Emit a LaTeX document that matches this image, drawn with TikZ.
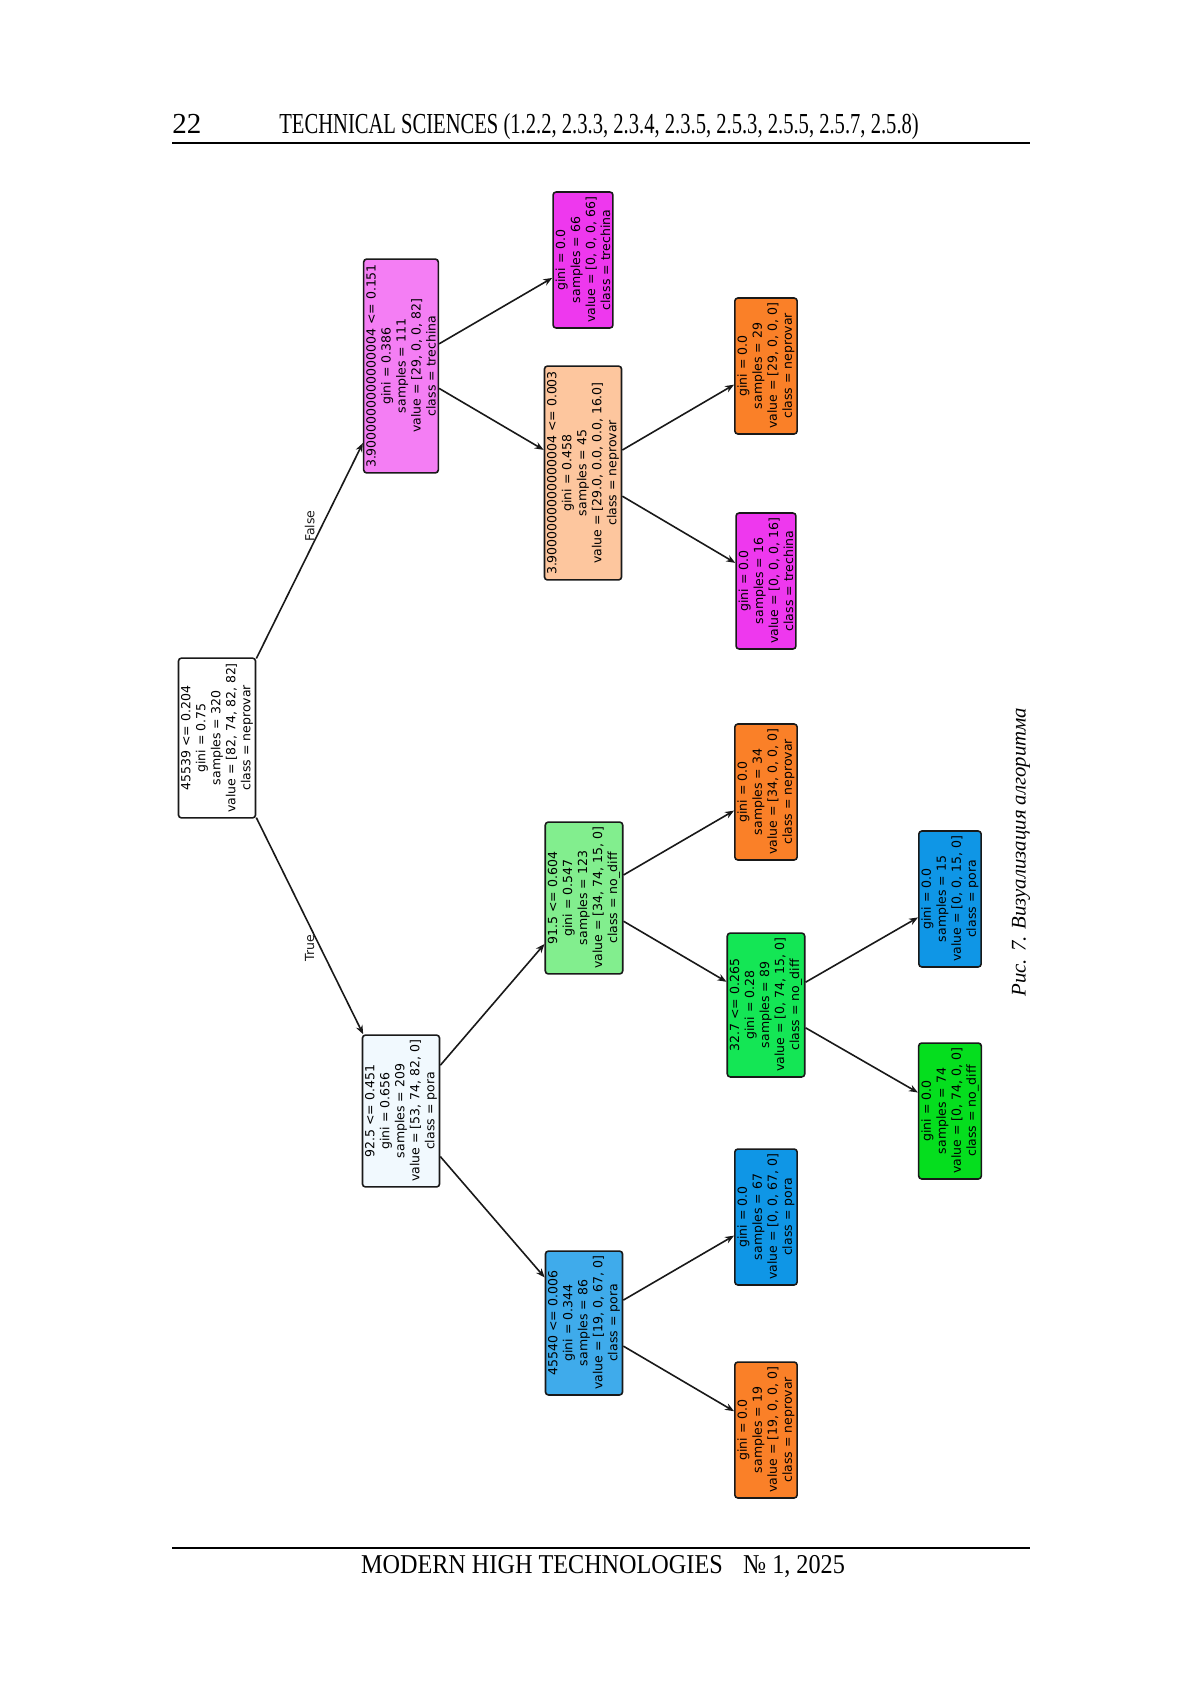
\documentclass[tikz,border=0pt]{standalone}
\usepackage{fontspec}
\setmainfont{Liberation Serif}
\newfontfamily\treefont{DejaVu Sans}
\newfontfamily\headfont[FakeStretch=0.71]{Liberation Serif}
\newfontfamily\footfont[FakeStretch=0.89]{Liberation Serif}
\usepackage{xcolor}
\usetikzlibrary{arrows.meta}

\definecolor{neprovar}{RGB}{250,128,40}
\definecolor{trechina}{RGB}{238,56,238}
\definecolor{pora}{RGB}{15,150,230}
\definecolor{nodiff}{RGB}{5,222,30}
\definecolor{nodiffmid}{RGB}{20,230,85}

\begin{document}
\begin{tikzpicture}[
  x=0.5pt, y=-0.5pt,
  box/.style={draw=black!90, line width=0.8pt, rounded corners=1.5pt, rotate=90, align=center,
    inner xsep=2.5pt, inner ysep=1.3pt, font=\treefont\fontsize{6.25}{7.5}\selectfont},
  arrow/.style={-{Stealth[length=4.5pt, width=3.5pt]}, line width=0.8pt, black!90},
  edgelabel/.style={rotate=90, inner xsep=4pt, inner ysep=0pt, font=\treefont\fontsize{6.25}{7.5}\selectfont}
]

% Page
\fill[white] (0,0) rectangle (1200,1697);
\node[anchor=base west, inner sep=0pt, font=\fontsize{14.5}{16}\selectfont] (pagenum) at (172,133) {22};
\node[anchor=base west, inner sep=0pt, font=\headfont\fontsize{14.5}{16}\selectfont] (header) at (279,133)
  {TECHNICAL SCIENCES (1.2.2, 2.3.3, 2.3.4, 2.3.5, 2.5.3, 2.5.5, 2.5.7, 2.5.8)};
\draw[line width=1.2pt] (172,143) -- (1030,143);
\draw[line width=1.2pt] (172,1548) -- (1030,1548);
\node[anchor=base, inner sep=0pt, font=\footfont\fontsize{13.6}{16}\selectfont] (footer) at (603,1573)
  {MODERN HIGH TECHNOLOGIES\hspace{0.75em}№ 1, 2025};
\node[rotate=90, font=\itshape\fontsize{10.4}{12}\selectfont] (caption) at (1021,852) {Рис. 7. Визуализация алгоритма};

% Nodes
\node[box, fill=white] (root) at (217,738) {45539 <= 0.204\\gini = 0.75\\samples = 320\\value = [82, 74, 82, 82]\\class = neprovar};
\node[box, fill=pora!6] (n1) at (401,1111) {92.5 <= 0.451\\gini = 0.656\\samples = 209\\value = [53, 74, 82, 0]\\class = pora};
\node[box, fill=trechina!65] (n2) at (401,366) {3.9000000000000004 <= 0.151\\gini = 0.386\\samples = 111\\value = [29, 0, 0, 82]\\class = trechina};
\node[box, fill=neprovar!45] (n3) at (583,473) {3.9000000000000004 <= 0.003\\gini = 0.458\\samples = 45\\value = [29.0, 0.0, 0.0, 16.0]\\class = neprovar};
\node[box, fill=trechina] (l1) at (583,260) {gini = 0.0\\samples = 66\\value = [0, 0, 0, 66]\\class = trechina};
\node[box, fill=neprovar] (l2) at (766,366) {gini = 0.0\\samples = 29\\value = [29, 0, 0, 0]\\class = neprovar};
\node[box, fill=trechina] (l3) at (766,581) {gini = 0.0\\samples = 16\\value = [0, 0, 0, 16]\\class = trechina};
\node[box, fill=nodiff!50] (n4) at (584,898) {91.5 <= 0.604\\gini = 0.547\\samples = 123\\value = [34, 74, 15, 0]\\class = no\_diff};
\node[box, fill=neprovar] (l4) at (766,792) {gini = 0.0\\samples = 34\\value = [34, 0, 0, 0]\\class = neprovar};
\node[box, fill=nodiffmid] (n5) at (766,1005) {32.7 <= 0.265\\gini = 0.28\\samples = 89\\value = [0, 74, 15, 0]\\class = no\_diff};
\node[box, fill=pora] (l5) at (950,899) {gini = 0.0\\samples = 15\\value = [0, 0, 15, 0]\\class = pora};
\node[box, fill=nodiff] (l6) at (950,1111) {gini = 0.0\\samples = 74\\value = [0, 74, 0, 0]\\class = no\_diff};
\node[box, fill=pora!80] (n6) at (584,1323) {45540 <= 0.006\\gini = 0.344\\samples = 86\\value = [19, 0, 67, 0]\\class = pora};
\node[box, fill=pora] (l7) at (766,1217) {gini = 0.0\\samples = 67\\value = [0, 0, 67, 0]\\class = pora};
\node[box, fill=neprovar] (l8) at (766,1430) {gini = 0.0\\samples = 19\\value = [19, 0, 0, 0]\\class = neprovar};

% Arrows
\draw[arrow] (root) -- (n1) node[edgelabel, midway, anchor=east] {True};
\draw[arrow] (root) -- (n2) node[edgelabel, midway, anchor=west] {False};
\draw[arrow] (n2) -- (l1);
\draw[arrow] (n2) -- (n3);
\draw[arrow] (n3) -- (l2);
\draw[arrow] (n3) -- (l3);
\draw[arrow] (n1) -- (n4);
\draw[arrow] (n1) -- (n6);
\draw[arrow] (n4) -- (l4);
\draw[arrow] (n4) -- (n5);
\draw[arrow] (n5) -- (l5);
\draw[arrow] (n5) -- (l6);
\draw[arrow] (n6) -- (l7);
\draw[arrow] (n6) -- (l8);

\end{tikzpicture}
\end{document}
